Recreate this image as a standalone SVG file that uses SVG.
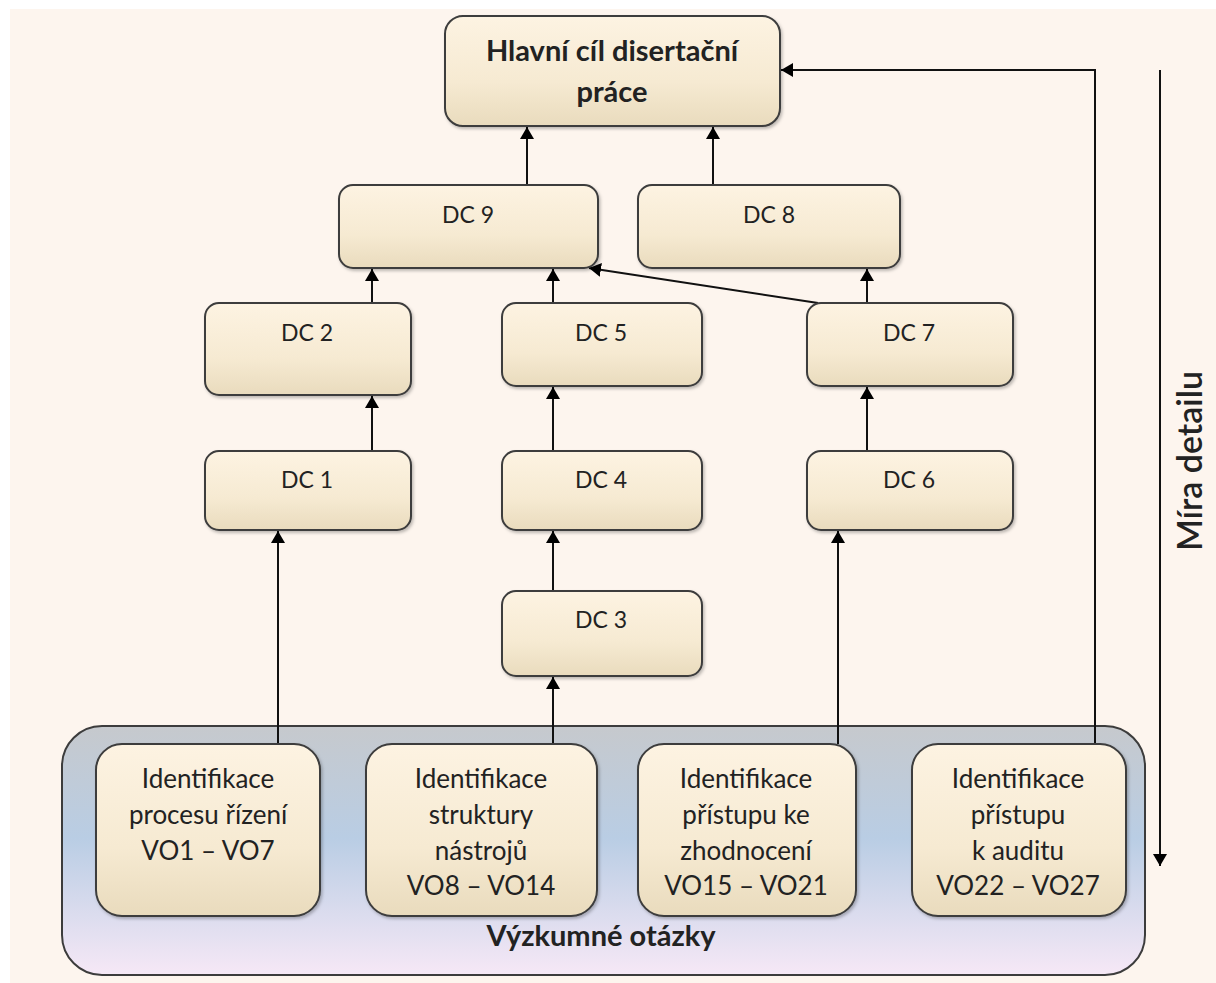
<svg xmlns="http://www.w3.org/2000/svg" width="1216" height="983" viewBox="0 0 1216 983">
<defs>
<linearGradient id="boxg" x1="0" y1="0" x2="0" y2="1">
<stop offset="0" stop-color="#fdf3e2"/>
<stop offset="0.6" stop-color="#f6ead2"/>
<stop offset="1" stop-color="#e9dbbd"/>
</linearGradient>
<linearGradient id="contg" x1="0" y1="0" x2="0" y2="1">
<stop offset="0" stop-color="#c6c9cd"/>
<stop offset="0.45" stop-color="#b9cde4"/>
<stop offset="1" stop-color="#f6e8f6"/>
</linearGradient>
<marker id="arr" viewBox="0 0 12 14" refX="12" refY="7" markerWidth="12" markerHeight="14" markerUnits="userSpaceOnUse" orient="auto">
<path d="M0,0 L12,7 L0,14 Z" fill="#000"/>
</marker>
<filter id="sh" x="-5%" y="-5%" width="115%" height="120%">
<feDropShadow dx="1.5" dy="2" stdDeviation="1.5" flood-color="#000" flood-opacity="0.25"/>
</filter>
</defs>
<style>
.box{fill:url(#boxg);stroke:#3c3c3c;stroke-width:2;filter:url(#sh)}
.t{font-family:Lato,"Open Sans","Liberation Sans",sans-serif;font-size:26px;fill:#222;text-anchor:middle}
.d{font-size:23px}
.b{font-weight:bold}
.h{font-size:29px}
.c{fill:none;stroke:#111;stroke-width:2}
</style>
<rect x="0" y="0" width="1216" height="983" fill="#ffffff"/>
<rect x="10" y="9" width="1206" height="974" fill="#fdf5ee"/>

<g id="container">
<rect x="62" y="726" width="1083" height="249" rx="40" fill="url(#contg)" stroke="#3c3c3c" stroke-width="2"/>
<text class="t b h" x="601" y="946">Výzkumné otázky</text>
</g>

<g id="connectors">
<line class="c" x1="278" y1="744" x2="278" y2="531" marker-end="url(#arr)"/>
<line class="c" x1="553" y1="744" x2="553" y2="677" marker-end="url(#arr)"/>
<line class="c" x1="838" y1="744" x2="838" y2="531" marker-end="url(#arr)"/>
<polyline class="c" points="1095,744 1095,70 781,70" marker-end="url(#arr)"/>
<line class="c" x1="553" y1="591" x2="553" y2="531" marker-end="url(#arr)"/>
<line class="c" x1="553" y1="450" x2="553" y2="387" marker-end="url(#arr)"/>
<line class="c" x1="553" y1="303" x2="553" y2="269" marker-end="url(#arr)"/>
<line class="c" x1="372" y1="450" x2="372" y2="396" marker-end="url(#arr)"/>
<line class="c" x1="372" y1="303" x2="372" y2="269" marker-end="url(#arr)"/>
<line class="c" x1="867" y1="450" x2="867" y2="387" marker-end="url(#arr)"/>
<line class="c" x1="867" y1="303" x2="867" y2="269" marker-end="url(#arr)"/>
<line class="c" x1="818" y1="303" x2="589" y2="268" marker-end="url(#arr)"/>
<line class="c" x1="527" y1="185" x2="527" y2="127" marker-end="url(#arr)"/>
<line class="c" x1="713" y1="185" x2="713" y2="127" marker-end="url(#arr)"/>
<line class="c" x1="1160" y1="70" x2="1160" y2="866" marker-end="url(#arr)"/>
</g>

<g id="main">
<rect class="box" x="445" y="16" width="335" height="110" rx="18"/>
<text class="t b h" x="612" y="61">Hlavní cíl disertační</text>
<text class="t b h" x="612" y="102">práce</text>
</g>
<g id="dc9"><rect class="box" x="339" y="185" width="259" height="83" rx="14"/><text class="t d" x="468" y="223">DC 9</text></g>
<g id="dc8"><rect class="box" x="638" y="185" width="262" height="83" rx="14"/><text class="t d" x="769" y="223">DC 8</text></g>
<g id="dc2"><rect class="box" x="205" y="303" width="206" height="92" rx="14"/><text class="t d" x="307" y="341">DC 2</text></g>
<g id="dc5"><rect class="box" x="502" y="303" width="200" height="83" rx="14"/><text class="t d" x="601" y="341">DC 5</text></g>
<g id="dc7"><rect class="box" x="807" y="303" width="206" height="83" rx="14"/><text class="t d" x="909" y="341">DC 7</text></g>
<g id="dc1"><rect class="box" x="205" y="451" width="206" height="79" rx="14"/><text class="t d" x="307" y="488">DC 1</text></g>
<g id="dc4"><rect class="box" x="502" y="451" width="200" height="79" rx="14"/><text class="t d" x="601" y="488">DC 4</text></g>
<g id="dc6"><rect class="box" x="807" y="451" width="206" height="79" rx="14"/><text class="t d" x="909" y="488">DC 6</text></g>
<g id="dc3"><rect class="box" x="502" y="591" width="200" height="85" rx="14"/><text class="t d" x="601" y="628">DC 3</text></g>

<g id="vo1"><rect class="box" x="96" y="744" width="224" height="172" rx="26"/>
<text class="t" x="208" y="788">Identifikace</text><text class="t" x="208" y="824">procesu řízení</text><text class="t" x="208" y="860">VO1 – VO7</text></g>
<g id="vo2"><rect class="box" x="366" y="744" width="231" height="172" rx="26"/>
<text class="t" x="481" y="788">Identifikace</text><text class="t" x="481" y="824">struktury</text><text class="t" x="481" y="860">nástrojů</text><text class="t" x="481" y="895">VO8 – VO14</text></g>
<g id="vo3"><rect class="box" x="638" y="744" width="218" height="172" rx="26"/>
<text class="t" x="746" y="788">Identifikace</text><text class="t" x="746" y="824">přístupu ke</text><text class="t" x="746" y="860">zhodnocení</text><text class="t" x="746" y="895">VO15 – VO21</text></g>
<g id="vo4"><rect class="box" x="912" y="744" width="214" height="172" rx="26"/>
<text class="t" x="1018" y="788">Identifikace</text><text class="t" x="1018" y="824">přístupu</text><text class="t" x="1018" y="860">k auditu</text><text class="t" x="1018" y="895">VO22 – VO27</text></g>

<g id="axis-label">
<text class="t" style="font-size:34px;font-weight:600" transform="translate(1202,461) rotate(-90)">Míra detailu</text>
</g>
</svg>
